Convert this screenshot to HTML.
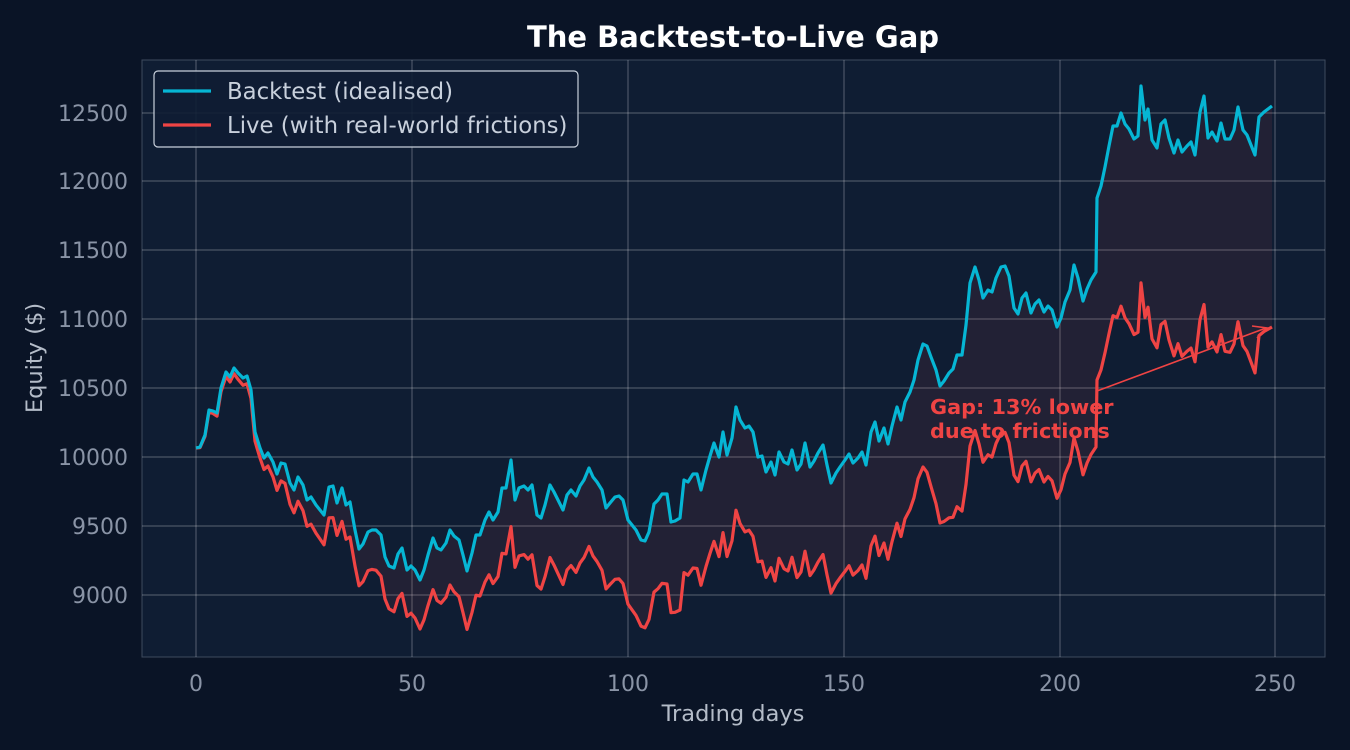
<!DOCTYPE html>
<html><head><meta charset="utf-8"><style>
html,body{margin:0;padding:0;background:#0a1426;}
svg{display:block;font-family:"DejaVu Sans","Liberation Sans",sans-serif;}
</style></head><body>
<svg id="s" width="1350" height="750" xmlns="http://www.w3.org/2000/svg">
<rect width="1350" height="750" fill="#0a1426"/>
<rect x="142" y="60" width="1183" height="597" fill="#0f1d33" stroke="#3d4a5e" stroke-width="1"/>
<g stroke="#ffffff" stroke-opacity="0.25" stroke-width="1.2">
<line x1="196" y1="60" x2="196" y2="657"/><line x1="412" y1="60" x2="412" y2="657"/>
<line x1="628" y1="60" x2="628" y2="657"/><line x1="844" y1="60" x2="844" y2="657"/>
<line x1="1060" y1="60" x2="1060" y2="657"/><line x1="1275" y1="60" x2="1275" y2="657"/>
<line x1="142" y1="595" x2="1325" y2="595"/><line x1="142" y1="526" x2="1325" y2="526"/>
<line x1="142" y1="457" x2="1325" y2="457"/><line x1="142" y1="388" x2="1325" y2="388"/>
<line x1="142" y1="319" x2="1325" y2="319"/><line x1="142" y1="250" x2="1325" y2="250"/>
<line x1="142" y1="181" x2="1325" y2="181"/><line x1="142" y1="113" x2="1325" y2="113"/>
</g>
<g fill="#8a94a6" font-size="22" text-anchor="end">
<text x="128" y="603">9000</text><text x="128" y="534">9500</text><text x="128" y="465">10000</text>
<text x="128" y="396">10500</text><text x="128" y="327">11000</text><text x="128" y="258">11500</text>
<text x="128" y="189">12000</text><text x="128" y="121">12500</text>
</g>
<g fill="#8a94a6" font-size="22" text-anchor="middle">
<text x="196" y="691">0</text><text x="412" y="691">50</text><text x="628" y="691">100</text>
<text x="844" y="691">150</text><text x="1060" y="691">200</text><text x="1275" y="691">250</text>
</g>
<text x="733" y="721" fill="#b4bcc8" font-size="22.5" text-anchor="middle">Trading days</text>
<text transform="translate(42,358) rotate(-90)" fill="#b4bcc8" font-size="22.5" text-anchor="middle">Equity ($)</text>
<text x="733" y="47" fill="#ffffff" font-size="29" font-weight="bold" text-anchor="middle">The Backtest-to-Live Gap</text>
<polygon id="fill" fill="#e84a4a" fill-opacity="0.09"/>
<polyline id="red" fill="none" stroke="#ef4444" stroke-width="3.2" stroke-linejoin="round"/>
<polyline id="blue" fill="none" stroke="#06b6d4" stroke-width="3.2" stroke-linejoin="round"/>
<line x1="1097" y1="391" x2="1266" y2="328" stroke="#ef4444" stroke-width="1.6"/>
<polyline points="1252,326 1267,328 1257,338" fill="none" stroke="#ef4444" stroke-width="1.6"/>
<text x="930" y="414" fill="#ef4444" font-size="20.8" font-weight="bold">Gap: 13% lower</text>
<text x="930" y="438" fill="#ef4444" font-size="20.8" font-weight="bold">due to frictions</text>
<rect x="154" y="71" width="424" height="76" rx="4" fill="#0f1d33" fill-opacity="0.9" stroke="#c8d0dc" stroke-width="1.2"/>
<line x1="163" y1="91" x2="211" y2="91" stroke="#06b6d4" stroke-width="3.2"/>
<line x1="163" y1="125" x2="211" y2="125" stroke="#ef4444" stroke-width="3.2"/>
<text x="227" y="99" fill="#c8d0dc" font-size="22.8">Backtest (idealised)</text>
<text x="227" y="133" fill="#c8d0dc" font-size="22.8">Live (with real-world frictions)</text>
</svg>
<script>
var b=[196,448,200,447,205,435,209,410,213,411,217,413,221,388,226,372,230,377,234,368,238,373,243,378,247,376,251,390,255,432,260,448,264,458,268,453,273,462,277,474,281,463,285,464,290,483,294,490,298,477,303,485,307,500,311,497,316,505,320,510,324,515,329,487,333,486,337,503,342,488,346,505,350,502,355,530,359,549,363,544,368,532,372,530,376,530,381,535,385,557,389,566,394,568,398,554,402,548,407,570,411,566,415,570,420,580,424,570,428,555,433,538,437,548,441,550,446,543,450,530,454,536,459,540,463,555,467,571,472,553,476,535,480,535,485,520,489,512,493,520,498,512,502,488,506,488,511,460,515,500,519,488,524,486,528,490,532,485,537,515,541,518,545,505,550,485,554,492,558,500,563,510,567,495,571,490,576,496,580,486,584,480,589,468,593,477,597,482,602,490,606,508,610,503,615,497,619,496,623,500,628,520,632,525,636,530,641,540,645,541,649,532,654,504,658,500,662,494,667,494,671,522,675,521,680,518,684,480,688,482,693,474,697,474,701,490,706,470,710,456,714,443,719,457,723,432,727,455,732,438,736,407,740,420,745,428,749,426,753,432,758,457,762,456,766,472,771,462,775,475,779,452,784,462,788,464,792,450,797,470,801,464,805,443,810,467,814,461,818,453,823,445,827,465,831,483,836,473,840,467,845,460,849,454,853,463,858,458,862,452,866,465,871,432,875,422,879,441,884,428,888,444,892,426,897,407,901,420,905,402,910,392,914,380,918,360,923,344,927,346,931,357,936,370,940,386,944,381,949,373,953,369,957,355,962,355,966,325,970,283,975,267,979,280,983,298,988,290,992,292,996,278,1001,267,1005,266,1009,276,1014,308,1018,314,1022,298,1026,293,1031,313,1035,304,1039,300,1044,312,1048,306,1052,310,1057,327,1061,318,1065,302,1070,290,1074,265,1078,278,1083,301,1087,289,1091,280,1096,272,1097,198,1101,186,1105,167,1109,146,1113,126,1117,126,1121,113,1125,124,1129,129,1134,139,1138,136,1141,86,1145,120,1148,109,1152,140,1157,148,1161,124,1165,120,1169,138,1174,153,1178,140,1182,152,1187,146,1191,142,1195,155,1200,112,1204,96,1208,138,1212,132,1217,141,1221,123,1225,139,1230,139,1234,130,1238,107,1243,130,1247,135,1251,145,1255,155,1259,117,1264,112,1272,106];
var off=[[196,0],[230,5],[260,10],[300,25],[350,35],[400,45],[450,55],[500,65],[600,80],[700,95],[733,103],[830,110],[917,118],[940,137],[970,163],[1096,175],[1097,182],[1120,193],[1272,221]];
function o(x){for(var i=1;i<off.length;i++){if(x<=off[i][0]){var a=off[i-1],c=off[i];return a[1]+(c[1]-a[1])*(x-a[0])/(c[0]-a[0]);}}return 221;}
var bp=[],rp=[];
for(var i=0;i<b.length;i+=2){bp.push(b[i]+","+b[i+1]);rp.push(b[i]+","+(b[i+1]+o(b[i])).toFixed(1));}
document.getElementById("blue").setAttribute("points",bp.join(" "));
document.getElementById("red").setAttribute("points",rp.join(" "));
document.getElementById("fill").setAttribute("points",bp.concat(rp.slice().reverse()).join(" "));
</script>
</body></html>
